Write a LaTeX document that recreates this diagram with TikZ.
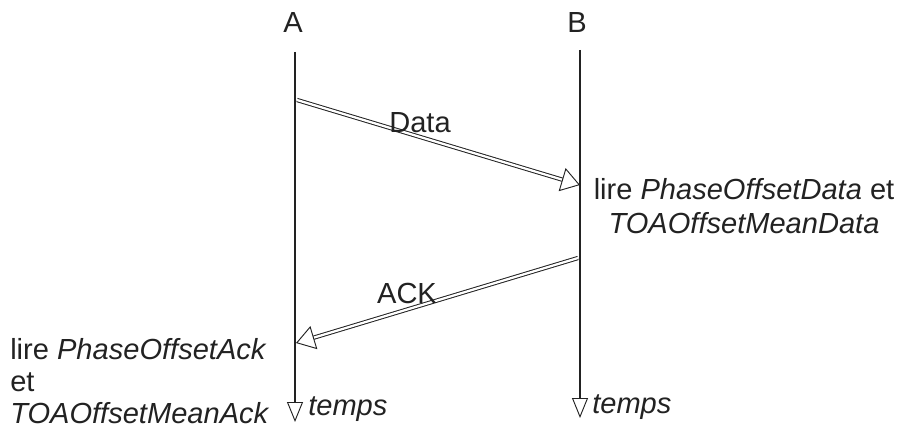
\documentclass[tikz,border=0pt]{standalone}
\usepackage{fontspec}
\setmainfont{Liberation Sans}
\usepackage{tikz}
\usetikzlibrary{
  arrows.meta,
  positioning
}
\definecolor{inkgray}{RGB}{34,34,34}
\newcommand{\field}[1]{\textit{#1}}

\begin{document}
\begin{tikzpicture}[
  x=0.75pt, y=-0.75pt,
  font=\fontsize{21.8}{25.5}\selectfont,
  every node/.style={text=inkgray, inner sep=0pt},
  lifeline/.style={
    draw=inkgray,
    line width=2pt,
    -{Triangle[open, length=15pt, width=12pt, line width=0.7pt]}
  },
  msgarr/.style={
    draw=inkgray,
    line width=0.75pt,
    double=white,
    double distance=1.7pt,
    -{Triangle[open, length=14pt, width=18pt, line width=0.7pt]}
  },
  notebox/.style={align=left, font=\fontsize{21.8}{24.2}\selectfont}
]
\useasboundingbox (0,0) rectangle (899,428);

% participants
\node[anchor=base] (labA) at (293,33) {A};
\node[anchor=base] (labB) at (577,33) {B};

\coordinate (atop) at (295,52);
\coordinate (abot) at (295,422);
\coordinate (btop) at (580,50);
\coordinate (bbot) at (580,418);

\draw[lifeline] (atop) -- (abot);
\draw[lifeline] (btop) -- (bbot);

\node[anchor=base west] (tempsA) at (308,415) {\field{temps}};
\node[anchor=base west] (tempsB) at (592,413) {\field{temps}};

% messages
\coordinate (dataout) at (297,100);
\coordinate (datain) at (580,185);
\coordinate (ackout) at (578,258);
\coordinate (ackin) at (296,343);

\draw[msgarr] (dataout) -- (datain);
\draw[msgarr] (ackout) -- (ackin);

\node[anchor=base] (datalab) at (420,132) {Data};
\node[anchor=base] (acklab) at (407,303) {ACK};

% readings
\node[anchor=north, align=center] (readB) at (744,178)
  {lire \field{PhaseOffsetData} et\\\field{TOAOffsetMeanData}};
\node[anchor=north west, notebox] (readA) at (10,338)
  {lire \field{PhaseOffsetAck}\\et\\\field{TOAOffsetMeanAck}};

\end{tikzpicture}
\end{document}
